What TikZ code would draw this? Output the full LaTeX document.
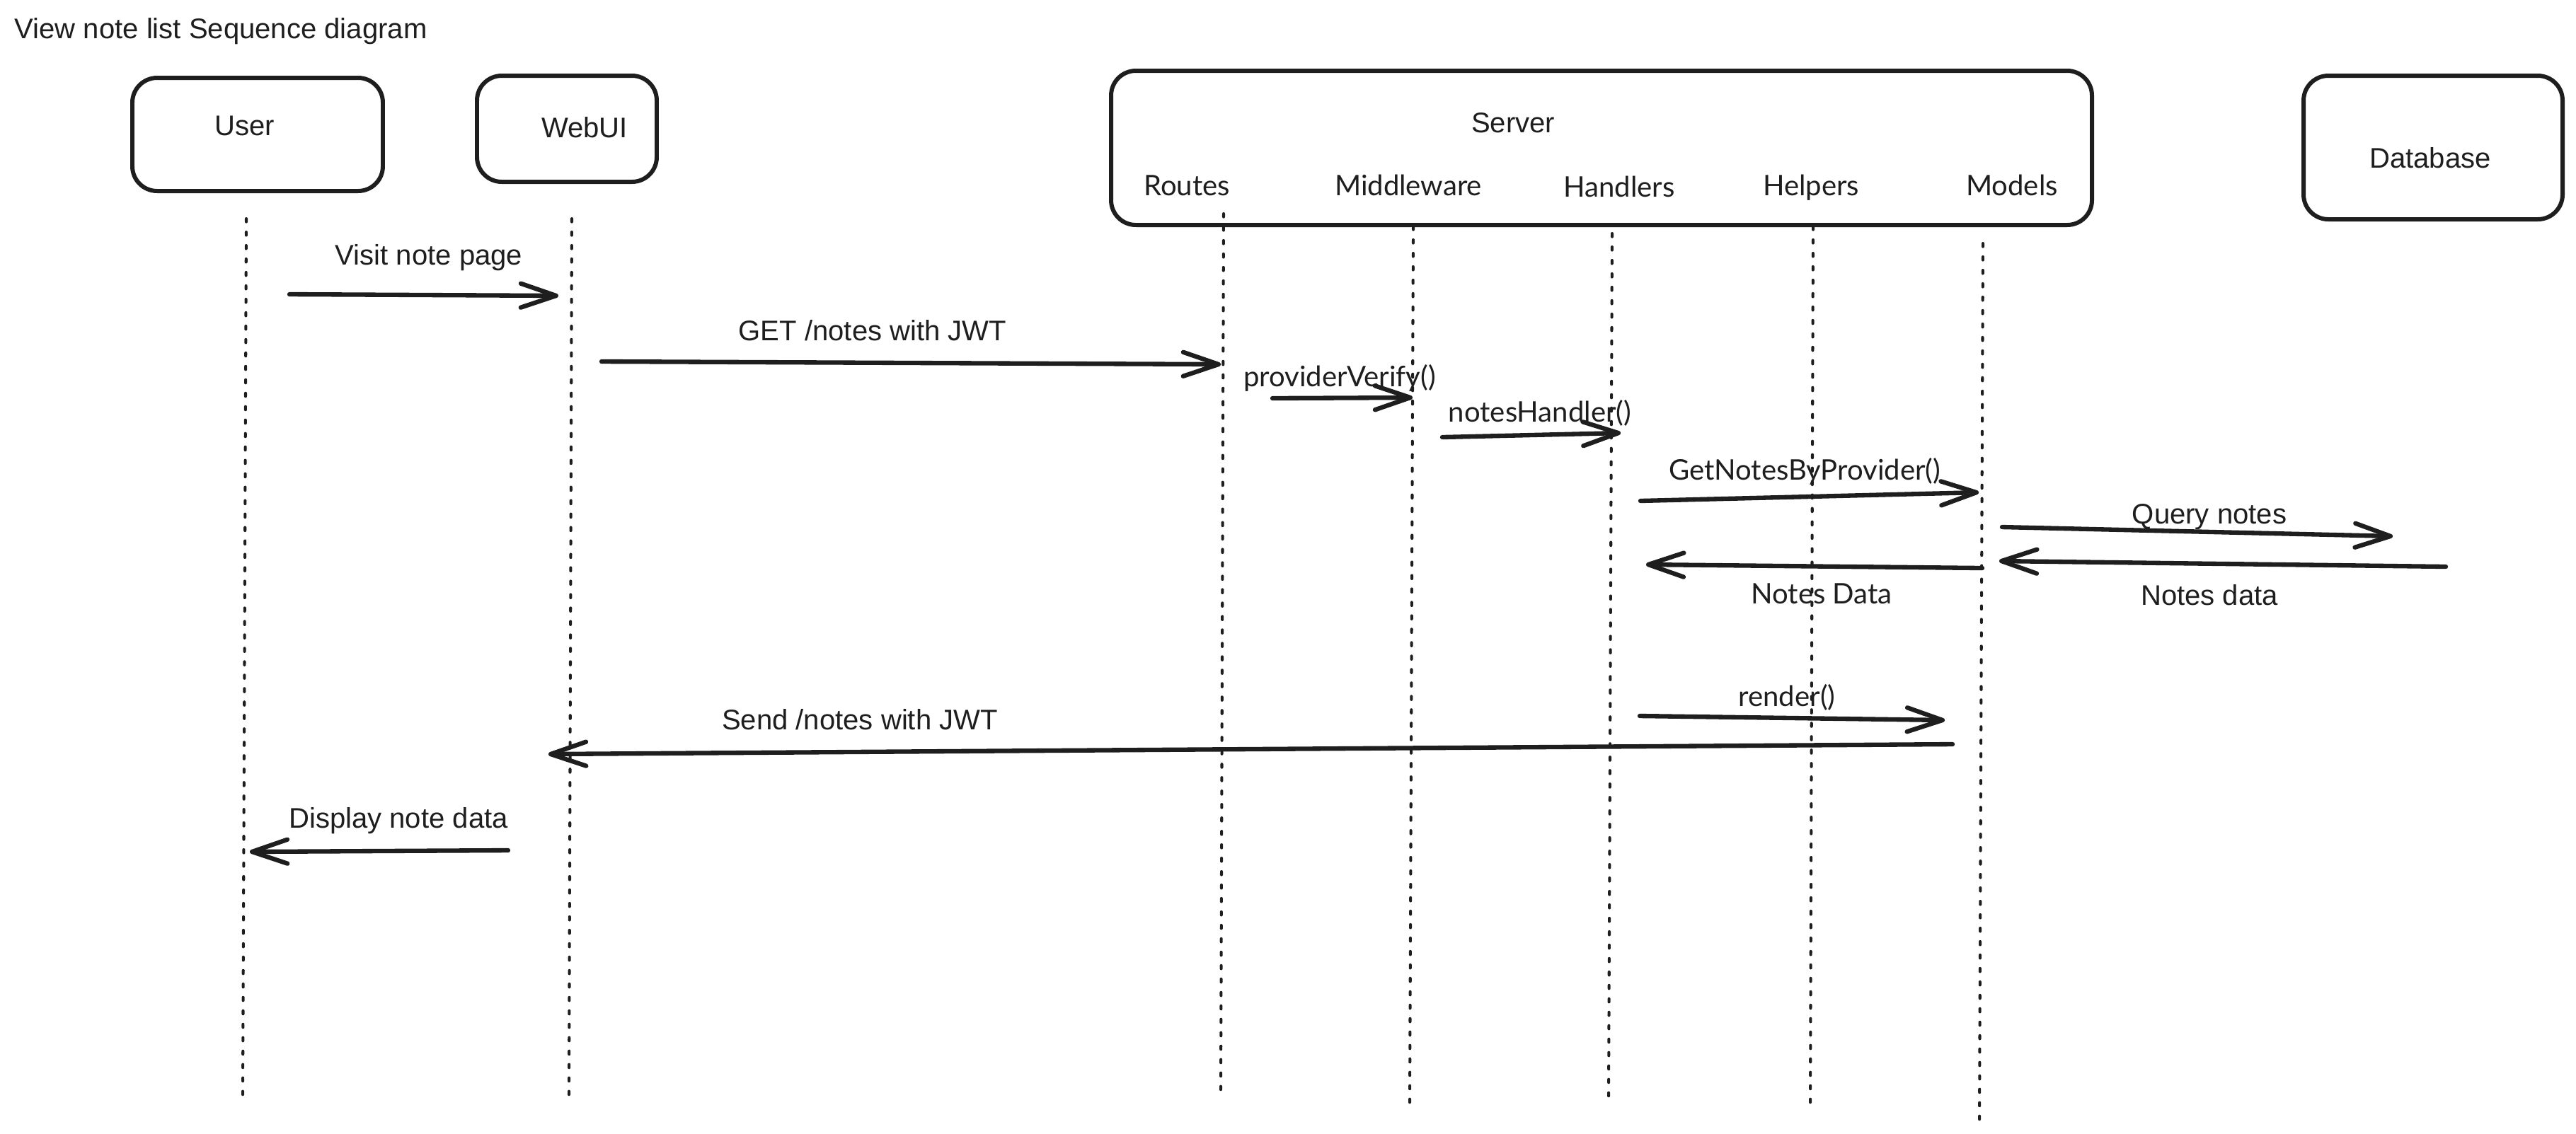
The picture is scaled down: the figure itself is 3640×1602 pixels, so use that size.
\documentclass[tikz,border=0pt]{standalone}
\usepackage{fontspec}
\setmainfont{Liberation Sans}
\newfontfamily\handfont{Lato}
\usetikzlibrary{arrows.meta}
\definecolor{ink}{HTML}{1E1E1E}

\begin{document}
\begin{tikzpicture}[x=0.1mm, y=-0.1mm,
  box/.style={draw=ink, line width=1.7pt, rounded corners=3.5mm, inner sep=0pt},
  txt/.style={text=ink, inner sep=0pt, text height=2.86mm, text depth=0pt,
    font=\fontsize{11.4pt}{13pt}\selectfont},
  hand/.style={txt, font=\handfont\fontsize{11.4pt}{13pt}\selectfont},
  lifeline/.style={draw=ink, line width=1.15pt, line cap=round, dash pattern=on 1.3pt off 4.1pt},
  msg/.style={draw=ink, line width=1.8pt, line cap=round,
    -{Straight Barb[length=5mm, width=3.4mm, round]}}
]
\useasboundingbox (0,0) rectangle (3640,1602);

% title
\node[txt, anchor=west] (title) at (20,40) {View note list Sequence diagram};

% participant boxes
\node[box, minimum width=35.4mm, minimum height=16mm] (user) at (364,190) {};
\node[box, minimum width=25.4mm, minimum height=15mm] (webui) at (801,182) {};
\node[box, minimum width=138.6mm, minimum height=21.8mm] (server) at (2263,209) {};
\node[box, minimum width=36.6mm, minimum height=20.3mm] (db) at (3438,208.5) {};

\node[txt] (userlbl) at (346,177) {User};
\node[txt] (webuilbl) at (826,180) {WebUI};
\node[txt] (serverlbl) at (2138,173) {Server};
\node[txt] (dblbl) at (3434,223) {Database};

% server components
\node[hand] (routes) at (1677,262) {Routes};
\node[hand] (middleware) at (1990,262) {Middleware};
\node[hand] (handlers) at (2288,264) {Handlers};
\node[hand] (helpers) at (2559,262) {Helpers};
\node[hand] (models) at (2843,262) {Models};

% lifelines
\coordinate (userT) at (348,309);   \coordinate (userB) at (343,1553);
\coordinate (webuiT) at (808,309);  \coordinate (webuiB) at (804,1549);
\coordinate (routesT) at (1729,302); \coordinate (routesB) at (1725,1543);
\coordinate (midT) at (1997,320);   \coordinate (midB) at (1992,1561);
\coordinate (handT) at (2278,330);  \coordinate (handB) at (2273,1554);
\coordinate (helpT) at (2562,320);  \coordinate (helpB) at (2558,1561);
\coordinate (modT) at (2802,344);   \coordinate (modB) at (2797,1583);

\foreach \a/\b in {userT/userB, webuiT/webuiB, routesT/routesB, midT/midB,
                   handT/handB, helpT/helpB, modT/modB}
  \draw[lifeline] (\a) -- (\b);

% message end points
\coordinate (m1a) at (409,416);   \coordinate (m1b) at (789,418);
\coordinate (m2a) at (850,511);   \coordinate (m2b) at (1725,515);
\coordinate (m3a) at (1798,563);  \coordinate (m3b) at (1996,562);
\coordinate (m4a) at (2038,618);  \coordinate (m4b) at (2290,612);
\coordinate (m5a) at (2318,708);  \coordinate (m5b) at (2796,696);
\coordinate (m6a) at (2829,745);  \coordinate (m6b) at (3381,758);
\coordinate (m7a) at (3456,801);  \coordinate (m7b) at (2825,793);
\coordinate (m8a) at (2801,803);  \coordinate (m8b) at (2326,798);
\coordinate (m9a) at (2317,1012); \coordinate (m9b) at (2748,1018);
\coordinate (m10a) at (2759,1052); \coordinate (m10b) at (775,1066);
\coordinate (m11a) at (718,1202); \coordinate (m11b) at (353,1204);

% messages
\draw[msg] (m1a) -- (m1b);
\draw[msg] (m2a) -- (m2b);
\draw[msg] (m3a) -- (m3b);
\draw[msg] (m4a) -- (m4b);
\draw[msg] (m5a) -- (m5b);
\draw[msg] (m6a) -- (m6b);
\draw[msg] (m7a) -- (m7b);
\draw[msg] (m8a) -- (m8b);
\draw[msg] (m9a) -- (m9b);
\draw[msg] (m10a) -- (m10b);
\draw[msg] (m11a) -- (m11b);

% message labels
\node[txt] (l1) at (606,360) {Visit note page};
\node[txt] (l2) at (1233,467) {GET /notes with JWT};
\node[hand] (l3) at (1893,532) {providerVerify()};
\node[hand] (l4) at (2176,582) {notesHandler()};
\node[hand] (l5) at (2550,664) {GetNotesByProvider()};
\node[txt] (l6) at (3122,726) {Query notes};
\node[txt] (l7) at (3122,841) {Notes data};
\node[hand] (l8) at (2574,839) {Notes Data};
\node[hand] (l9) at (2525,984) {render()};
\node[txt] (l10) at (1215,1017) {Send /notes with JWT};
\node[txt] (l11) at (563,1156) {Display note data};
\end{tikzpicture}
\end{document}
